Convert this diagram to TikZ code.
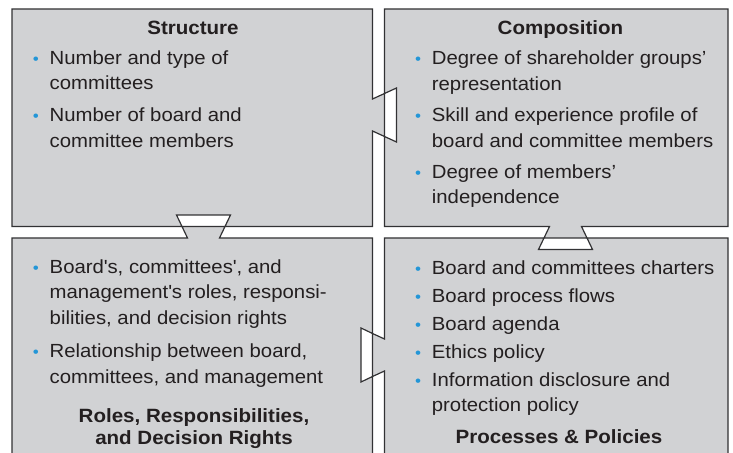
\documentclass[tikz,border=0pt]{standalone}
\usepackage{fontspec}
\setmainfont[FakeStretch=1.07]{Liberation Sans}
\usepackage{xcolor}
\usepackage{tikz}
\usetikzlibrary{positioning}
\definecolor{panelgray}{RGB}{209,210,212}
\definecolor{edgegray}{RGB}{50,50,52}
\definecolor{dotblue}{RGB}{35,150,215}
\definecolor{inkblack}{RGB}{35,31,32}
\newcommand{\blt}{\llap{\textcolor{dotblue}{\fontsize{8}{8}\selectfont\textbullet}\hspace{5.4pt}}}
\newcommand{\sq}{\textquotesingle}
\begin{document}
\begin{tikzpicture}[x=0.5pt, y=-0.5pt,
  panel/.style={fill=panelgray, draw=edgegray, line width=0.6pt, line join=miter},
  title/.style={font=\fontsize{9.6}{11.2}\selectfont\bfseries, text=inkblack, inner sep=0pt, align=center, anchor=base},
  list/.style={font=\fontsize{9.5}{12.8}\selectfont, text=inkblack, inner sep=0pt, align=left, anchor=base west}]
\useasboundingbox (0,0) rectangle (733,453);
\clip (0,0) rectangle (733,453);
\draw[panel] (12,9) -- (372.5,9) -- (372.5,99) -- (384.5,93.5) -- (384.5,136.5) -- (372.5,131) -- (372.5,226.5)
  -- (225,226.5) -- (230.5,215) -- (176.5,215) -- (182,226.5) -- (12,226.5) -- cycle;
\draw[panel] (384.5,9) -- (728,9) -- (728,226.5) -- (581.5,226.5) -- (587,238) -- (544,238) -- (549.5,226.5)
  -- (384.5,226.5) -- (384.5,136.5) -- (396.5,142) -- (396.5,88) -- (384.5,93.5) -- cycle;
\draw[panel] (12,470) -- (12,238) -- (187.5,238) -- (182,226.5) -- (225,226.5) -- (219.5,238) -- (372.5,238)
  -- (372.5,333.5) -- (361,328) -- (361,382) -- (372.5,376.5) -- (372.5,470) -- cycle;
\draw[panel] (384.5,238) -- (544,238) -- (538.5,249.5) -- (592.5,249.5) -- (587,238) -- (728,238) -- (728,470)
  -- (384.5,470) -- (384.5,371) -- (372.5,376.5) -- (372.5,333.5) -- (384.5,339) -- cycle;

% lists sit on the baseline of their last line
\node[title] (tstruct) at (193,35) {Structure};
\node[list] (lstruct) at (49.3,147.5) {\blt Number and type of\\ committees\\[3.2pt]
  \blt Number of board and\\ committee members};

\node[title] (tcomp) at (560.5,35) {Composition};
\node[list] (lcomp) at (431.5,204) {\blt Degree of shareholder groups'\\ representation\\[2.8pt]
  \blt Skill and experience profile of\\ board and committee members\\[2.8pt]
  \blt Degree of members'\\ independence};

\node[list] (lroles) at (49.3,383.3) {\blt Board\sq s, committees\sq, and\\ management\sq s roles, responsi-\\ bilities, and decision rights\\[3.8pt]
  \blt Relationship between board,\\ committees, and management};
\node[title] (troles) at (194,445) {Roles, Responsibilities,\\ and Decision Rights};

\node[list] (lproc) at (431.5,411.7) {\blt Board and committees charters\\[1.2pt]
  \blt Board process flows\\[1.2pt] \blt Board agenda\\[1.2pt] \blt Ethics policy\\[1.2pt]
  \blt Information disclosure and\\ protection policy};
\node[title] (tproc) at (559,443.3) {Processes \& Policies};
\end{tikzpicture}
\end{document}
